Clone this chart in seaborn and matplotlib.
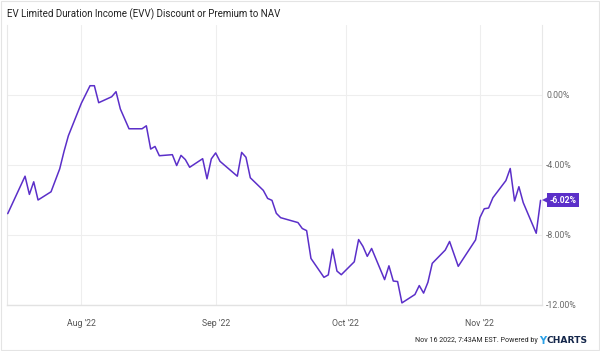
import matplotlib
matplotlib.use("Agg")
import matplotlib.pyplot as plt
import matplotlib.transforms as mtransforms
import seaborn as sns
import pandas as pd
from matplotlib.patches import Rectangle

dates = ["2022-07-15", "2022-07-19", "2022-07-20", "2022-07-21", "2022-07-22",
         "2022-07-25", "2022-07-27", "2022-07-28", "2022-07-29", "2022-08-01",
         "2022-08-03", "2022-08-04", "2022-08-05", "2022-08-08", "2022-08-09",
         "2022-08-10", "2022-08-12", "2022-08-15", "2022-08-16", "2022-08-17",
         "2022-08-18", "2022-08-19", "2022-08-22", "2022-08-23", "2022-08-24",
         "2022-08-25", "2022-08-26", "2022-08-29", "2022-08-30", "2022-08-31",
         "2022-09-01", "2022-09-02", "2022-09-06", "2022-09-07", "2022-09-08",
         "2022-09-09", "2022-09-12", "2022-09-13", "2022-09-14", "2022-09-15",
         "2022-09-16", "2022-09-20", "2022-09-21", "2022-09-22", "2022-09-23",
         "2022-09-26", "2022-09-27", "2022-09-28", "2022-09-29", "2022-09-30",
         "2022-10-03", "2022-10-04", "2022-10-05", "2022-10-06", "2022-10-07",
         "2022-10-10", "2022-10-11", "2022-10-12", "2022-10-13", "2022-10-14",
         "2022-10-17", "2022-10-18", "2022-10-19", "2022-10-20", "2022-10-21",
         "2022-10-24", "2022-10-25", "2022-10-27", "2022-10-31", "2022-11-01",
         "2022-11-02", "2022-11-03", "2022-11-04", "2022-11-07", "2022-11-08",
         "2022-11-09", "2022-11-10", "2022-11-11", "2022-11-14", "2022-11-15"]

premium = [-6.78, -4.64, -5.68, -4.96, -6.00,
           -5.53, -4.22, -3.22, -2.33, -0.47,
           0.53, 0.53, -0.44, -0.10, 0.19,
           -0.80, -1.93, -1.93, -1.76, -3.09,
           -2.94, -3.47, -3.41, -4.03, -3.45,
           -3.69, -4.13, -3.64, -4.79, -3.65,
           -3.31, -3.79, -4.64, -3.28, -3.56,
           -4.73, -5.45, -5.91, -6.02, -6.76,
           -7.01, -7.29, -7.63, -7.75, -9.34,
           -10.42, -10.28, -8.81, -10.06, -10.27,
           -9.53, -8.26, -8.65, -9.22, -8.77,
           -10.55, -9.76, -10.63, -10.66, -11.88,
           -11.40, -10.89, -11.32, -10.70, -9.62,
           -8.86, -8.37, -9.79, -8.28, -7.01,
           -6.50, -6.46, -5.87, -4.89, -4.20,
           -6.06, -5.24, -6.15, -7.90, -6.02]

y_ticks = [-12, -8, -4, 0]
x_ticks = ["2022-08-01", "2022-09-01", "2022-10-01", "2022-11-01"]
x_tick_labels = ["Aug '22", "Sep '22", "Oct '22", "Nov '22"]
title = "EV Limited Duration Income (EVV) Discount or Premium to NAV"
last_label = "-6.02%"

PURPLE = "#5b2fc9"

sns.set_theme(style="white")
plt.rcParams["font.family"] = ["Roboto", "DejaVu Sans"]

df = pd.DataFrame({"date": pd.to_datetime(dates), "premium": premium})

fig = plt.figure(figsize=(6.0, 3.51), dpi=100)
ax = fig.add_axes([7 / 600, 1 - 305 / 351, 535 / 600, 280 / 351])

sns.lineplot(data=df, x="date", y="premium", ax=ax, color=PURPLE,
             linewidth=1.1, zorder=3)

ax.set_ylim(-12, 4)
ax.set_xlim(pd.Timestamp("2022-07-14 20:00"), pd.Timestamp("2022-11-15 08:00"))

ax.set_yticks(y_ticks)
ax.yaxis.tick_right()
ax.set_yticklabels([f"{v:.2f}%" for v in y_ticks], fontsize=6.3, color="#6b6b6b")
ax.set_xticks(pd.to_datetime(x_ticks))
ax.set_xticklabels(x_tick_labels, fontsize=6.3, color="#555555")
ax.tick_params(axis="y", length=0, pad=3)
ax.tick_params(axis="x", length=0, pad=10)
for lab in ax.get_yticklabels():
    lab.set_horizontalalignment("left")

ax.grid(True, color="#eeeeee", linewidth=0.8)
ax.set_xlabel("")
ax.set_ylabel("")
for side in ["left", "right", "top"]:
    ax.spines[side].set_visible(side != "top")
    ax.spines[side].set_color("#e8e8e8")
    ax.spines[side].set_linewidth(0.8)
ax.spines["bottom"].set_color("#e2e2e2")
ax.spines["bottom"].set_linewidth(1.0)

# last value marker label: small pointer + box
last_x = df["date"].iloc[-1]
last_y = premium[-1]
ptr_trans = mtransforms.offset_copy(ax.transData, fig=fig, x=3.6, y=0, units="points")
ax.plot([last_x], [last_y], marker="<", markersize=5.5, color=PURPLE,
        markeredgewidth=0, transform=ptr_trans, clip_on=False, zorder=5)
ax.annotate(last_label, xy=(last_x, last_y),
            xytext=(6.2, 0), textcoords="offset points", ha="left", va="center",
            fontsize=6.2, color="white", fontweight="bold",
            bbox=dict(boxstyle="square,pad=0.28", fc=PURPLE, ec="none"),
            annotation_clip=False, zorder=5)

fig.text(7 / 600, 1 - 14 / 351, title, fontsize=7.0, color="#222222",
         ha="left", va="center")

fig.text(538 / 600, 1 - 341 / 351, "Nov 16 2022, 7:43AM EST. Powered by",
         fontsize=5.1, color="#222222", ha="right", va="center")
fig.text(539 / 600, 1 - 340.5 / 351, "Y", fontsize=7.2, color="#2aa1e8",
         fontweight="bold", ha="left", va="center", family="DejaVu Sans")
fig.text(546.5 / 600, 1 - 340.5 / 351, "CHARTS", fontsize=6.6, color="#14264a",
         fontweight="bold", ha="left", va="center", family="DejaVu Sans")

fig.patches.append(Rectangle((0.002, 0.004), 0.996, 0.992, transform=fig.transFigure,
                             fill=False, ec="#e4e4e4", lw=0.8))

fig.savefig("out.png", dpi=100)
